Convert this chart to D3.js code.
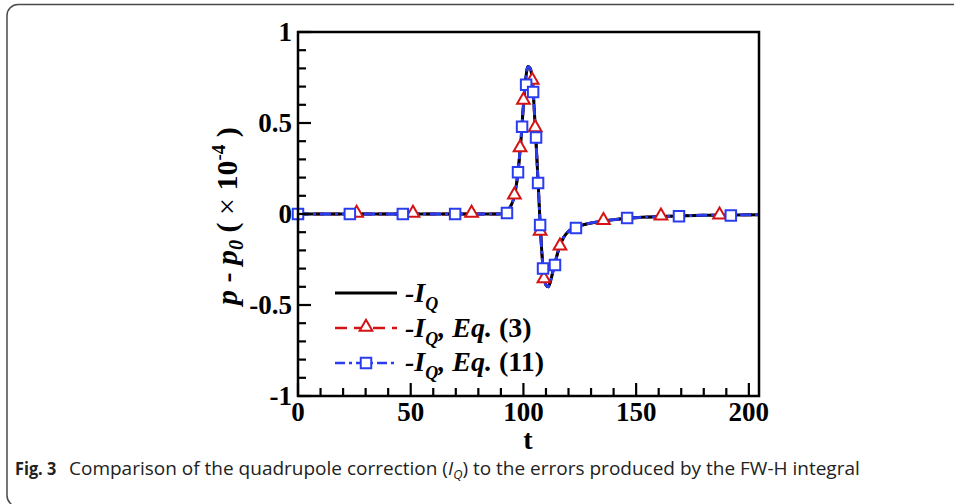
<!DOCTYPE html>
<html><head><meta charset="utf-8">
<script src="https://cdn.jsdelivr.net/npm/d3@7"></script>
<style>html,body{margin:0;padding:0;background:#fff;}svg{display:block;}</style>
</head><body>
<svg id="c" width="954" height="504"></svg>
<script>
// ---- data ----
const tCurve = [0, 60, 88, 91, 93, 95, 96, 97, 98, 99, 100, 101, 102, 103, 104, 105, 106, 107, 108, 109, 110, 111, 112, 113, 114, 116, 118, 120, 123, 127, 132, 138, 146, 155, 165, 180, 204.5];
const iqValues = [0, 0, 0, 0.003, 0.02, 0.06, 0.10, 0.17, 0.28, 0.42, 0.60, 0.74, 0.81, 0.80, 0.73, 0.53, 0.30, 0.05, -0.18, -0.33, -0.39, -0.40, -0.37, -0.32, -0.27, -0.18, -0.125, -0.095, -0.075, -0.058, -0.045, -0.034, -0.024, -0.017, -0.012, -0.007, -0.004];
const eq3Values = [0, 0, 0, 0.003, 0.02, 0.06, 0.10, 0.17, 0.28, 0.42, 0.60, 0.74, 0.81, 0.80, 0.73, 0.53, 0.30, 0.05, -0.18, -0.33, -0.39, -0.40, -0.37, -0.32, -0.27, -0.18, -0.125, -0.095, -0.075, -0.058, -0.045, -0.034, -0.024, -0.017, -0.012, -0.007, -0.004];
const eq11Values = [0, 0, 0, 0.003, 0.02, 0.06, 0.10, 0.17, 0.28, 0.42, 0.60, 0.74, 0.81, 0.80, 0.73, 0.53, 0.30, 0.05, -0.18, -0.33, -0.39, -0.40, -0.37, -0.32, -0.27, -0.18, -0.125, -0.095, -0.075, -0.058, -0.045, -0.034, -0.024, -0.017, -0.012, -0.007, -0.004];
const eq3MarkerT = [26, 51, 77, 96, 98.5, 100, 103.9, 105.2, 107.4, 109.1, 116.2, 135.5, 161, 187];
const eq3MarkerV = [0, 0, 0, 0.10, 0.36, 0.62, 0.73, 0.47, -0.10, -0.36, -0.18, -0.04, -0.015, -0.01];
const eq11MarkerT = [0, 23, 46.5, 69.7, 92.7, 97.6, 99.4, 101.2, 104.3, 105.6, 106.5, 107.4, 108.7, 114, 123.3, 146, 169, 192];
const eq11MarkerV = [0, 0, 0, 0, 0.005, 0.23, 0.48, 0.71, 0.67, 0.42, 0.17, -0.06, -0.30, -0.28, -0.077, -0.022, -0.012, -0.008];
const xTickValues = [0, 50, 100, 150, 200];
const xTickLabels = ["0", "50", "100", "150", "200"];
const yTickValues = [-1, -0.5, 0, 0.5, 1];
const yTickLabels = ["-1", "-0.5", "0", "0.5", "1"];
const legendLabels = ["Eq. (3)", "Eq. (11)"];

// ---- setup ----
const svg = d3.select("#c");
const serif = "'Liberation Serif','Times New Roman',serif";
const x = d3.scaleLinear().domain([0, 204.5]).range([298, 759]);
const y = d3.scaleLinear().domain([-1, 1]).range([396, 32]);

// outer card
svg.append("rect").attr("x", 7).attr("y", 4.5).attr("width", 980).attr("height", 502)
  .attr("rx", 11).attr("fill", "none").attr("stroke", "#4a4a4a").attr("stroke-width", 1.5);

svg.append("clipPath").attr("id", "clip").append("rect")
  .attr("x", x(0)).attr("y", y(1)).attr("width", x(204.5) - x(0)).attr("height", y(-1) - y(1));

const g = svg.append("g");

// lines
const pts = vals => tCurve.map((t, i) => [t, vals[i]]);
const line = d3.line().x(d => x(d[0])).y(d => y(d[1])).curve(d3.curveMonotoneX);
const plot = g.append("g").attr("clip-path", "url(#clip)");
plot.append("path").attr("d", line(pts(eq3Values))).attr("fill", "none").attr("stroke", "#d41414").attr("stroke-width", 2.8).attr("stroke-dasharray", "10,6");
plot.append("path").attr("d", line(pts(iqValues))).attr("fill", "none").attr("stroke", "#000").attr("stroke-width", 3);
plot.append("path").attr("d", line(pts(eq11Values))).attr("fill", "none").attr("stroke", "#2a3cf0").attr("stroke-width", 2.8).attr("stroke-dasharray", "11,4,3,4");

const tri = d3.symbol().type(d3.symbolTriangle).size(70);
const sq = d3.symbol().type(d3.symbolSquare).size(110);
g.append("g").selectAll("path").data(eq3MarkerT.map((t, i) => [t, eq3MarkerV[i]])).join("path")
  .attr("d", tri).attr("transform", d => `translate(${x(d[0])},${y(d[1]) - 1})`)
  .attr("fill", "#fff").attr("stroke", "#d41414").attr("stroke-width", 2);
g.append("g").selectAll("path").data(eq11MarkerT.map((t, i) => [t, eq11MarkerV[i]])).join("path")
  .attr("d", sq).attr("transform", d => `translate(${x(d[0])},${y(d[1])})`)
  .attr("fill", "#fff").attr("stroke", "#2a3cf0").attr("stroke-width", 2);

// ticks (inward)
const minorX = d3.range(0, 205, 10).filter(v => v % 50 !== 0);
const minorY = d3.range(-10, 11).map(v => v / 10).filter(v => Math.abs(Math.round(v * 10)) % 5 !== 0);
const tk = g.append("g").attr("stroke", "#000").attr("stroke-width", 2.2);
tk.selectAll("line.xm").data(minorX).join("line").attr("class", "xm")
  .attr("x1", d => x(d)).attr("x2", d => x(d)).attr("y1", y(-1)).attr("y2", y(-1) - 8);
tk.selectAll("line.xM").data(xTickValues).join("line").attr("class", "xM")
  .attr("x1", d => x(d)).attr("x2", d => x(d)).attr("y1", y(-1)).attr("y2", y(-1) - 13);
tk.selectAll("line.ym").data(minorY).join("line").attr("class", "ym")
  .attr("x1", x(0)).attr("x2", x(0) + 8).attr("y1", d => y(d)).attr("y2", d => y(d));
tk.selectAll("line.yM").data(yTickValues).join("line").attr("class", "yM")
  .attr("x1", x(0)).attr("x2", x(0) + 13).attr("y1", d => y(d)).attr("y2", d => y(d));

// frame
g.append("rect").attr("x", x(0)).attr("y", y(1)).attr("width", x(204.5) - x(0)).attr("height", y(-1) - y(1))
  .attr("fill", "none").attr("stroke", "#000").attr("stroke-width", 2.5);

// tick labels
g.append("g").selectAll("text").data(xTickValues).join("text")
  .attr("x", d => x(d)).attr("y", 421).attr("text-anchor", "middle")
  .attr("font-family", serif).attr("font-weight", "bold").attr("font-size", 27)
  .text((d, i) => xTickLabels[i]);
g.append("g").selectAll("text").data(yTickValues).join("text")
  .attr("x", 292).attr("y", d => y(d)).attr("dy", "0.35em").attr("text-anchor", "end")
  .attr("font-family", serif).attr("font-weight", "bold").attr("font-size", 27)
  .text((d, i) => yTickLabels[i]);

// axis titles
svg.append("text").attr("x", 528).attr("y", 449).attr("text-anchor", "middle")
  .attr("font-family", serif).attr("font-weight", "bold").attr("font-size", 28).text("t");
const yl = svg.append("text").attr("transform", `translate(237,${y(0) + 2}) rotate(-90)`)
  .attr("text-anchor", "middle").attr("font-family", serif).attr("font-weight", "bold").attr("font-size", 30);
yl.append("tspan").attr("font-style", "italic").text("p");
yl.append("tspan").text(" - ");
yl.append("tspan").attr("font-style", "italic").text("p");
yl.append("tspan").attr("font-style", "italic").attr("font-size", 20).attr("dy", 6).text("0");
yl.append("tspan").attr("dy", -6).text(" ( ");
yl.append("tspan").attr("font-weight", "normal").text("×");
yl.append("tspan").text(" 10");
yl.append("tspan").attr("font-size", 19).attr("dy", -12).text("-4");
yl.append("tspan").attr("dy", 12).text(" )");

// legend
const legRows = [
  {y: 293, base: 302, stroke: "#000", dash: null, w: 3, mk: null, extra: null},
  {y: 328, base: 337, stroke: "#d41414", dash: "12,7", w: 2.6, mk: "tri", extra: legendLabels[0]},
  {y: 363, base: 371, stroke: "#2a3cf0", dash: "10,4,3,4", w: 2.6, mk: "sq", extra: legendLabels[1]}
];
const leg = svg.append("g");
legRows.forEach(r => {
  leg.append("line").attr("x1", 335).attr("x2", 397).attr("y1", r.y).attr("y2", r.y)
    .attr("stroke", r.stroke).attr("stroke-width", r.w).attr("stroke-dasharray", r.dash);
  if (r.mk === "tri") leg.append("path").attr("d", tri).attr("transform", `translate(366,${r.y - 1})`)
    .attr("fill", "#fff").attr("stroke", r.stroke).attr("stroke-width", 2);
  if (r.mk === "sq") leg.append("path").attr("d", sq).attr("transform", `translate(366,${r.y})`)
    .attr("fill", "#fff").attr("stroke", r.stroke).attr("stroke-width", 2);
  const t = leg.append("text").attr("x", 405).attr("y", r.base)
    .attr("font-family", serif).attr("font-weight", "bold").attr("font-size", 28);
  t.append("tspan").attr("font-style", "italic").text("-I");
  t.append("tspan").attr("font-style", "italic").attr("font-size", 18).attr("dy", 8).text("Q");
  if (r.extra) {
    const parts = r.extra.split(" ");
    t.append("tspan").attr("font-style", "italic").attr("dy", -8).text(", " + parts[0] + " ");
    t.append("tspan").text(parts[1]);
  }
});

// caption
const capFont = "'Open Sans','Noto Sans',sans-serif";
svg.append("text").attr("x", 15).attr("y", 475).attr("font-family", capFont).attr("font-size", 18.5)
  .attr("font-weight", "bold").attr("fill", "#222").attr("transform", "translate(15,0) scale(0.88,1) translate(-15,0)").text("Fig. 3");
const capG = svg.append("g");
const cap = capG.append("text").attr("x", 0).attr("y", 475).attr("font-family", capFont).attr("font-size", 18.5).attr("fill", "#222");
cap.append("tspan").text("Comparison of the quadrupole correction (");
cap.append("tspan").attr("font-style", "italic").text("I");
cap.append("tspan").attr("font-style", "italic").attr("font-size", 12.5).attr("dy", 4).text("Q");
cap.append("tspan").attr("dy", -4).text(") to the errors produced by the FW-H integral");
const w = cap.node().getComputedTextLength();
capG.attr("transform", `translate(69,0) scale(${(860 - 69) / w},1)`);
</script>
</body></html>
